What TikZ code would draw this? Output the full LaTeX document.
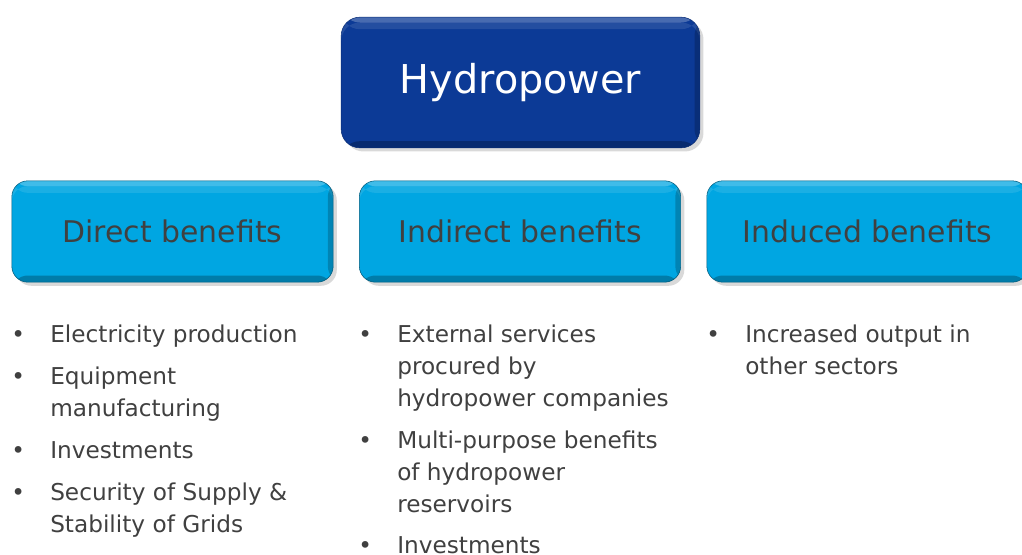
\documentclass[tikz,border=0pt]{standalone}
\usepackage{fontspec}
\setmainfont{DejaVu Sans}
\usepackage{xcolor}
\definecolor{hpdark}{RGB}{12,58,150}
\definecolor{hpcyan}{RGB}{0,166,226}
\definecolor{hptext}{RGB}{64,64,64}
\usetikzlibrary{positioning,shadows}

\begin{document}
\begin{tikzpicture}[x=0.75pt,y=-0.75pt,
  bevel/.style={path picture={
      \fill[white,opacity=0.25] (path picture bounding box.north west) rectangle ([yshift=-4pt]path picture bounding box.north east);
      \fill[white,opacity=0.10] ([yshift=-4pt]path picture bounding box.north west) rectangle ([yshift=-9pt]path picture bounding box.north east);
      \fill[black,opacity=0.25] ([yshift=5pt]path picture bounding box.south west) rectangle (path picture bounding box.south east);
      \fill[black,opacity=0.2] ([xshift=-4pt]path picture bounding box.north east) rectangle (path picture bounding box.south east);}},
  mainbox/.style={rounded corners=14pt,minimum width=269pt,minimum height=98pt,
    fill=hpdark,draw=hpdark!80!black,
    bevel,drop shadow={opacity=0.3},text=white,font=\fontsize{29.8}{36}\selectfont},
  benefitbox/.style={rounded corners=12pt,minimum width=241pt,minimum height=76pt,
    fill=hpcyan,draw=hpcyan!55!black,
    bevel,drop shadow={opacity=0.3},text=hptext,font=\fontsize{22.4}{27}\selectfont},
  bullet/.style={anchor=base west,inner sep=0pt,text=hptext,font=\fontsize{17.4}{24}\selectfont},
  item/.style={anchor=base west,inner sep=0pt,align=left,text=hptext,font=\fontsize{17.4}{24}\selectfont}
]
  \useasboundingbox (0,0) rectangle (1022,554);

  % Boxes
  \node[mainbox] (hydro) at (520.5,82.5) {Hydropower};
  \node[benefitbox] (direct) at (172.5,231.5) {Direct benefits};
  \node[benefitbox] (indirect) at (520,231.5) {Indirect benefits};
  \node[benefitbox] (induced) at (867.5,231.5) {Induced benefits};

  % Direct benefits list (items sit on their last baseline)
  \node[bullet] (db1) at (11,342) {•};
  \node[item] (d1) at (50,342) {Electricity production};
  \node[bullet] (db2) at (11,384) {•};
  \node[item] (d2) at (50,416) {Equipment\\manufacturing};
  \node[bullet] (db3) at (11,458) {•};
  \node[item] (d3) at (50,458) {Investments};
  \node[bullet] (db4) at (11,500) {•};
  \node[item] (d4) at (50,532) {Security of Supply \&\\Stability of Grids};

  % Indirect benefits list
  \node[bullet] (ib1) at (358,342) {•};
  \node[item] (i1) at (397,406) {External services\\procured by\\hydropower companies};
  \node[bullet] (ib2) at (358,448) {•};
  \node[item] (i2) at (397,512) {Multi-purpose benefits\\of hydropower\\reservoirs};
  \node[bullet] (ib3) at (358,553) {•};
  \node[item] (i3) at (397,553) {Investments};

  % Induced benefits list
  \node[bullet] (nb1) at (706,342) {•};
  \node[item] (n1) at (745,374) {Increased output in\\other sectors};
\end{tikzpicture}
\end{document}
